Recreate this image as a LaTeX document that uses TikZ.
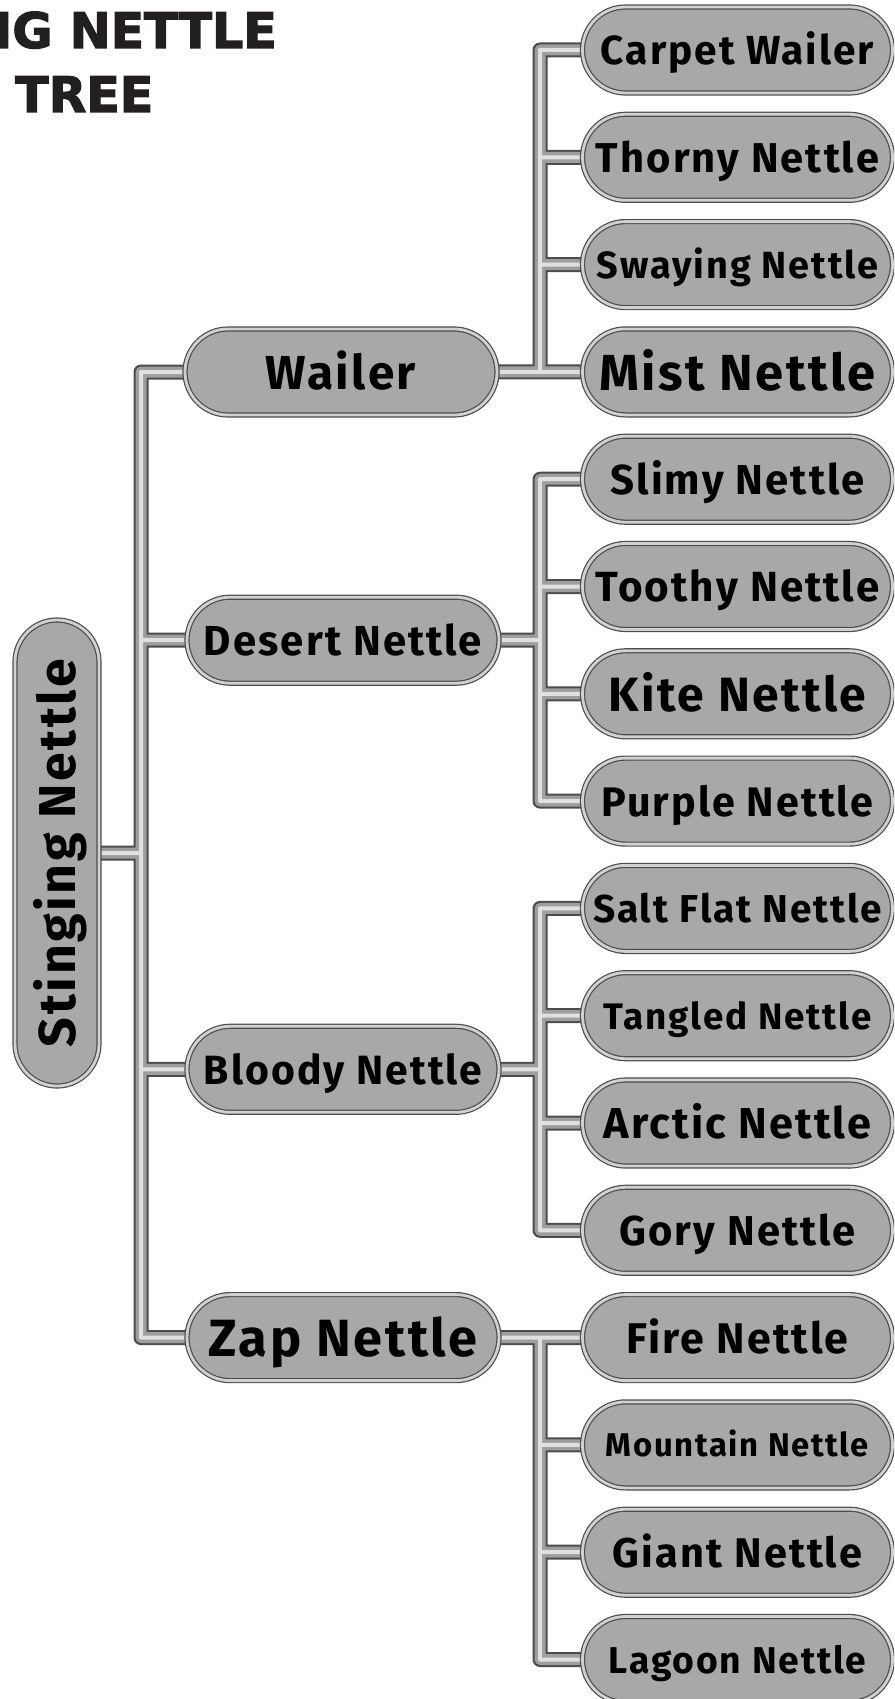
\documentclass[tikz,border=0pt]{standalone}
\usepackage{graphicx}
\usepackage{fontspec}
\setmainfont{Fira Sans}
\newfontfamily\boxfont{Fira Sans}[LetterSpace=5]
\newfontfamily\titlefont{DejaVu Sans}[BoldFeatures={FakeBold=2.5}]
\usetikzlibrary{shapes.misc,backgrounds}
\definecolor{boxfill}{gray}{0.66}
\definecolor{rim}{gray}{0.30}
\definecolor{rimlight}{gray}{0.82}
\definecolor{pipedark}{gray}{0.30}
\definecolor{pipemid}{gray}{0.62}
\definecolor{pipelight}{gray}{0.88}
\definecolor{ink}{HTML}{231F20}
\newcommand{\fitw}[2]{\resizebox{#1pt}{!}{\boxfont\bfseries\rule[-0.25em]{0pt}{1.23em}#2}}

\begin{document}
\begin{tikzpicture}[
    x=1pt, y=-1pt,
    pill/.style={
        rounded rectangle, draw=rim,
        double=rimlight, double distance=2.8pt,
        line width=1.2pt, fill=boxfill,
        inner sep=0pt
    },
    leaf/.style={pill, minimum width=310pt, minimum height=86pt},
    mid/.style={pill, minimum width=312pt, minimum height=86pt},
    title/.style={inner sep=0pt, text=ink,
        font=\titlefont\bfseries\fontsize{49}{49}\selectfont}
]
\useasboundingbox (0,0) rectangle (894,1699);
\clip (0,0) rectangle (894,1699);

\node[title, anchor=base east] (title1) at (277,48) {STINGING NETTLE};
\node[title, anchor=base west] (title2) at (15,112) {TREE};

\node[pill, rotate=90, minimum width=466pt, minimum height=84pt]
    (root) at (57,853) {\fitw{388}{Stinging Nettle}};

\node[mid] (wailer) at (341,372) {\fitw{150}{Wailer}};
\node[mid] (desert) at (343,640.2) {\fitw{278}{Desert Nettle}};
\node[mid] (bloody) at (343,1069.3) {\fitw{278}{Bloody Nettle}};
\node[mid] (zap) at (343,1337.6) {\fitw{269}{Zap Nettle}};

\node[leaf] (carpet) at (737.5,50) {\fitw{273}{Carpet Wailer}};
\node[leaf] (thorny) at (737.5,157.3) {\fitw{283}{Thorny Nettle}};
\node[leaf] (swaying) at (737.5,264.6) {\fitw{281}{Swaying Nettle}};
\node[leaf] (mist) at (737.5,371.9) {\fitw{276}{Mist Nettle}};
\node[leaf] (slimy) at (737.5,479.2) {\fitw{254}{Slimy Nettle}};
\node[leaf] (toothy) at (737.5,586.5) {\fitw{284}{Toothy Nettle}};
\node[leaf] (kite) at (737.5,693.8) {\fitw{257}{Kite Nettle}};
\node[leaf] (purple) at (737.5,801.1) {\fitw{272}{Purple Nettle}};
\node[leaf] (saltflat) at (737.5,908.4) {\fitw{289}{Salt Flat Nettle}};
\node[leaf] (tangled) at (737.5,1015.7) {\fitw{268}{Tangled Nettle}};
\node[leaf] (arctic) at (737.5,1123) {\fitw{268}{Arctic Nettle}};
\node[leaf] (gory) at (737.5,1230.3) {\fitw{236}{Gory Nettle}};
\node[leaf] (fire) at (737.5,1337.6) {\fitw{222}{Fire Nettle}};
\node[leaf] (mountain) at (737.5,1444.9) {\fitw{263}{Mountain Nettle}};
\node[leaf] (giant) at (737.5,1552.2) {\fitw{249}{Giant Nettle}};
\node[leaf] (lagoon) at (737.5,1659.5) {\fitw{258}{Lagoon Nettle}};

\coordinate (trunk) at (141,853);
\coordinate (wj) at (540,372);
\coordinate (dj) at (540,640.2);
\coordinate (bj) at (540,1069.3);
\coordinate (zj) at (540,1337.6);

\begin{scope}[on background layer]
\foreach \w/\c/\s in {15/pipedark/0, 11/pipemid/-1, 4/pipelight/-2.5}
  \draw[line width=\w pt, \c, line join=round, shift={(\s,\s)}]
    (root.center) -- (trunk)
    (wailer.center) -| (trunk) |- (zap.center)
    (desert.center) -- (desert.center -| trunk)
    (bloody.center) -- (bloody.center -| trunk)
    (wailer.center) -- (mist.center)
    (carpet.center) -| (wj)
    (thorny.center) -- (thorny.center -| wj)
    (swaying.center) -- (swaying.center -| wj)
    (desert.center) -- (dj)
    (slimy.center) -| (dj) |- (purple.center)
    (toothy.center) -- (toothy.center -| dj)
    (kite.center) -- (kite.center -| dj)
    (bloody.center) -- (bj)
    (saltflat.center) -| (bj) |- (gory.center)
    (tangled.center) -- (tangled.center -| bj)
    (arctic.center) -- (arctic.center -| bj)
    (zap.center) -- (fire.center)
    (zj) |- (lagoon.center)
    (mountain.center) -- (mountain.center -| zj)
    (giant.center) -- (giant.center -| zj);
\end{scope}
\end{tikzpicture}
\end{document}
